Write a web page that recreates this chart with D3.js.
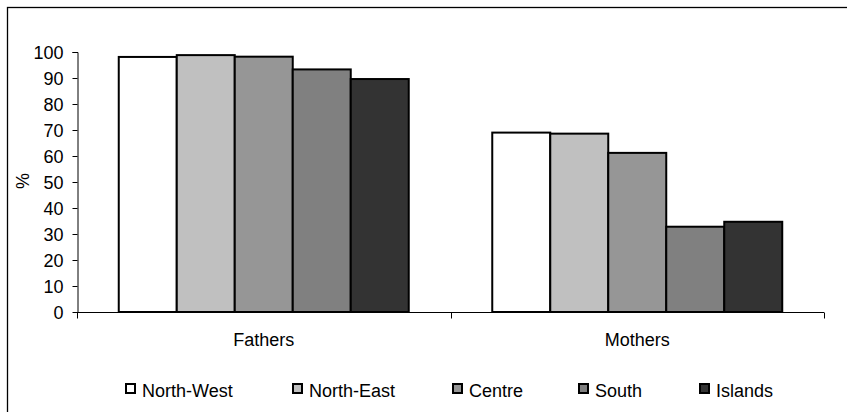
<!DOCTYPE html>
<html><head><meta charset="utf-8">
<script src="https://cdn.jsdelivr.net/npm/d3@7"></script>
<style>body{margin:0;background:#fff}svg{display:block}text{font-family:"Liberation Sans",Arial,sans-serif;fill:#000}</style>
</head><body>
<svg id="c" width="847" height="412"></svg>
<script>
const categories = ["Fathers", "Mothers"];
const regions = ["North-West", "North-East", "Centre", "South", "Islands"];
const colors = ["#ffffff", "#c0c0c0", "#969696", "#808080", "#333333"];
const northWest = [98.1, 69.0];
const northEast = [98.8, 68.6];
const centre = [98.2, 61.2];
const south = [93.3, 32.8];
const islands = [89.6, 34.7];
const yTicks = [0,10,20,30,40,50,60,70,80,90,100];
const series = [northWest, northEast, centre, south, islands];

const FS = "18px";
const svg = d3.select("#c");
svg.append("rect").attr("x",7.5).attr("y",7.5).attr("width",860).attr("height",420)
  .attr("fill","none").attr("stroke","#000").attr("stroke-width",1.3);

const x0 = d3.scaleBand().domain(categories).range([77,824]).paddingInner(0).paddingOuter(0);
const x1 = d3.scaleBand().domain(regions).range([0,x0.bandwidth()]).paddingInner(0).paddingOuter(0.72);
const y = d3.scaleLinear().domain([0,100]).range([312,52]);

// y axis
const ya = svg.append("g").attr("transform","translate(77.5,0)")
  .call(d3.axisLeft(y).tickValues(yTicks).tickSize(5).tickPadding(9));
ya.select(".domain").attr("d","M-5,52.5H0.5V312.5");
ya.selectAll("text").style("font-size",FS).attr("font-family","Liberation Sans, Arial").attr("dy","0.35em");
ya.selectAll("line").attr("stroke","#000");

// bars
categories.forEach((c,ci)=>{
  regions.forEach((r,ri)=>{
    const v = series[ri][ci];
    svg.append("rect")
      .attr("x", x0(c)+x1(r))
      .attr("y", y(v))
      .attr("width", x1.bandwidth())
      .attr("height", y(0)-y(v))
      .attr("fill", colors[ri]).attr("stroke","#000").attr("stroke-width",2);
  });
});

// x axis
const xa = svg.append("g").attr("transform","translate(0,312.5)");
xa.append("line").attr("x1",77).attr("x2",824).attr("stroke","#000");
[77, x0("Mothers"), 824].forEach(t=>{
  xa.append("line").attr("x1",Math.round(t)+0.5).attr("x2",Math.round(t)+0.5).attr("y1",0).attr("y2",6).attr("stroke","#000");
});
categories.forEach(c=>{
  svg.append("text").attr("x",x0(c)+x0.bandwidth()/2).attr("y",346)
    .attr("text-anchor","middle").style("font-size",FS).text(c);
});

// y label
svg.append("text").attr("transform","translate(29,181) rotate(-90)")
  .attr("text-anchor","middle").style("font-size",FS).text("%");

// legend
const legX = [125, 292, 452, 578, 699];
regions.forEach((r,i)=>{
  svg.append("rect").attr("x",legX[i]+1).attr("y",384).attr("width",9).attr("height",9)
    .attr("fill",colors[i]).attr("stroke","#000").attr("stroke-width",2);
  svg.append("text").attr("x",legX[i]+17).attr("y",397).style("font-size",FS).text(r);
});
</script>
</body></html>
